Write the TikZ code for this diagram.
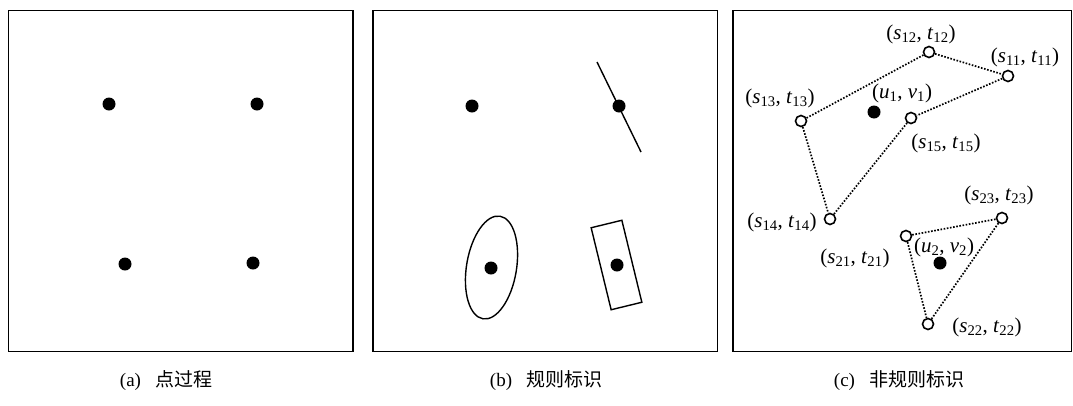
\documentclass[tikz,border=0pt]{standalone}
\usepackage{fontspec}
\setmainfont{Liberation Serif}
\newfontfamily\cjk{Noto Sans CJK SC}
\tikzset{
  panel/.style={draw, line width=1.6pt},
  fdot/.style={circle, fill=black, inner sep=0pt, minimum size=13pt},
  odot/.style={circle, draw, line width=1.6pt, inner sep=0pt, minimum size=11pt},
  dotline/.style={line width=1.7pt, dash pattern=on 1.6pt off 1.6pt},
  lbl/.style={font=\fontsize{21}{24}\selectfont, inner sep=0pt},
  captxt/.style={font=\fontsize{19}{22}\selectfont, inner sep=0pt},
  shp/.style={line width=1.4pt}
}
\newcommand{\st}[2]{(\textit{#1}\textsubscript{#2}, \textit{t}\textsubscript{#2})}
\begin{document}
\begin{tikzpicture}[x=1pt,y=-1pt]
\useasboundingbox (0,0) rectangle (1073,405);
% panels
\draw[panel] (8.5,10.5) rectangle (353,351.5);
\draw[panel] (373,10.5) rectangle (717.5,351.5);
\draw[panel] (733,10.5) rectangle (1071.5,351.5);
% (a)
\node[fdot] (a1) at (109,104) {};
\node[fdot] (a2) at (257,104) {};
\node[fdot] (a3) at (125,264) {};
\node[fdot] (a4) at (253,263) {};
% (b)
\node[fdot] (b1) at (472,106) {};
\node[fdot] (b2) at (619,106) {};
\node[fdot] (b3) at (491,268) {};
\node[fdot] (b4) at (617,265) {};
\coordinate (l1) at (597,62);
\coordinate (l2) at (641,152);
\draw[shp] (l1) -- (l2);
\draw[shp, rotate around={-9.4:(491.5,267.5)}] (491.5,267.5) ellipse [x radius=25, y radius=52];
\node[draw, shp, minimum width=31.6pt, minimum height=84.4pt, rotate=13.7] (rb) at (616.5,265) {};
% (c)
\node[fdot] (u1) at (874,112) {};
\node[fdot] (u2) at (940,263) {};
\node[odot] (s11) at (1008,76) {};
\node[odot] (s12) at (929,52) {};
\node[odot] (s13) at (801,121) {};
\node[odot] (s14) at (830,219) {};
\node[odot] (s15) at (911,118) {};
\node[odot] (s21) at (906,236) {};
\node[odot] (s22) at (928,324) {};
\node[odot] (s23) at (1002,218) {};
\draw[dotline] (s12) -- (s11);
\draw[dotline] (s12) -- (s13);
\draw[dotline] (s11) -- (s15);
\draw[dotline] (s13) -- (s14);
\draw[dotline] (s15) -- (s14);
\draw[dotline] (s21) -- (s23);
\draw[dotline] (s21) -- (s22);
\draw[dotline] (s23) -- (s22);
% labels
\node[lbl] (ls12) at (921,34) {\st{s}{12}};
\node[lbl] (ls11) at (1025,57) {\st{s}{11}};
\node[lbl] (ls13) at (780,98) {\st{s}{13}};
\node[lbl] (lu1) at (902,93) {(\textit{u}\textsubscript{1}, \textit{v}\textsubscript{1})};
\node[lbl] (ls15) at (946,143) {\st{s}{15}};
\node[lbl] (ls23) at (999,195) {\st{s}{23}};
\node[lbl] (ls14) at (782,222) {\st{s}{14}};
\node[lbl] (ls21) at (855,258) {\st{s}{21}};
\node[lbl] (lu2) at (944,247) {(\textit{u}\textsubscript{2}, \textit{v}\textsubscript{2})};
\node[lbl] (ls22) at (987,327) {\st{s}{22}};
% captions
\node[captxt] (ca) at (166,381) {(a)\hspace{14pt}{\cjk 点过程}};
\node[captxt] (cb) at (546,381) {(b)\hspace{14pt}{\cjk 规则标识}};
\node[captxt] (cc) at (899,381) {(c)\hspace{14pt}{\cjk 非规则标识}};
\end{tikzpicture}
\end{document}
